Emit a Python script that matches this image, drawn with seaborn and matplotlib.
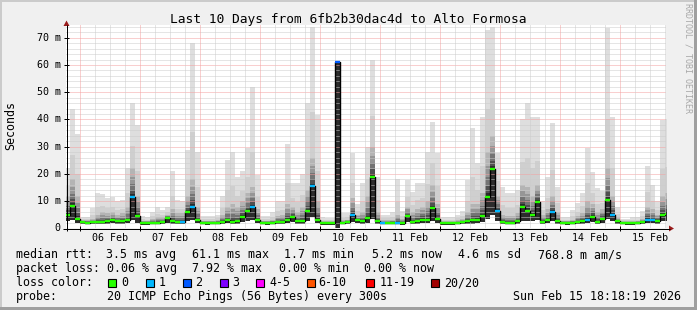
import numpy as np
import matplotlib
matplotlib.use("Agg")
import matplotlib.pyplot as plt
import seaborn as sns
from matplotlib.patches import Rectangle, Polygon
from matplotlib.lines import Line2D

# ---------------- data (2-hour bins starting Feb 05 18:00, values in ms) ----------------
median_ms = [4.8, 8.3, 3.5,
             2.2, 2.1, 2.2, 2.3, 2.3, 2.5, 2.9, 2.5, 2.5, 2.9, 11.4, 4.5,
             1.8, 1.9, 2.0, 2.1, 2.3, 3.8, 2.6, 2.4, 2.3, 6.0, 8.0, 3.0,
             2.0, 1.9, 2.0, 2.1, 2.3, 2.9, 2.4, 2.5, 4.2, 6.3, 7.7, 2.9,
             2.0, 1.9, 2.0, 2.2, 2.4, 3.2, 4.2, 2.7, 2.5, 6.5, 15.4, 3.0,
             1.8, 1.9, 1.9, 61.1, 2.0, 2.2, 5.0, 2.9, 2.6, 3.8, 18.9, 2.5,
             2.0, 2.0, 2.0, 2.1, 1.9, 4.5, 2.3, 2.8, 3.2, 3.1, 7.3, 3.5,
             1.9, 1.8, 1.8, 2.0, 2.3, 2.6, 2.9, 3.2, 4.5, 11.5, 21.7, 6.5,
             2.3, 2.0, 2.0, 2.5, 8.0, 6.5, 4.8, 9.7, 2.3, 3.0, 6.0, 2.5,
             2.0, 1.9, 2.0, 2.3, 2.5, 3.0, 4.3, 2.4, 3.5, 10.5, 5.0, 2.6,
             2.0, 1.9, 1.9, 2.0, 2.2, 3.2, 3.0, 2.8, 4.8, 5.2]
smoke_max = [22, 44, 34.5,
             4, 4, 7.3, 12.8, 12.5, 11, 11.4, 10, 10.5, 22, 46, 38,
             4.5, 4, 6, 8, 6.7, 8, 21, 10.3, 10, 28.7, 68, 28,
             4.5, 4.5, 4.5, 5, 12, 25, 28, 19, 21, 29.4, 52, 19.5,
             4.5, 4.5, 6, 10, 10, 31, 16.5, 16.5, 20, 46, 74, 41.5,
             4, 3.7, 3.7, 61.1, 5.5, 5.5, 27.5, 9, 16.5, 30, 62, 18.8,
             5, 5, 6, 18, 6.5, 17.6, 13.5, 16.5, 16.5, 28, 39, 27.5,
             4, 4, 4, 5, 6.5, 17.6, 36.8, 24, 41, 73, 74, 27.5,
             15, 13, 13, 14, 40, 46, 41, 41, 10, 18.8, 38.6, 15,
             4, 4, 6.6, 9.2, 12.8, 29.4, 20.6, 14.7, 13.8, 73.5, 41, 7.7,
             3.5, 3.5, 4, 4, 6.5, 23, 15.8, 10, 39.7, 40]
smoke_mid = [12, 18, 12,
             3, 3, 3.5, 5, 6, 5.5, 6, 5, 5.5, 8, 22, 12,
             2.8, 2.8, 3.5, 4, 4, 5, 7, 5.5, 5.5, 12, 18, 8,
             2.8, 2.8, 2.8, 3, 5, 8, 9, 8, 10, 13, 15, 7,
             2.8, 2.8, 3.2, 4.5, 5, 9, 8, 6, 8, 14, 26, 10,
             2.6, 2.6, 2.6, 61.1, 3, 3.2, 11, 5, 6, 12, 30, 6,
             3, 3, 3.2, 5, 3.5, 8, 6, 7, 8, 10, 16, 9,
             2.6, 2.5, 2.5, 3, 3.5, 6, 9, 9, 13, 28, 34, 12,
             5, 4.5, 4.5, 5.5, 16, 15, 12, 16, 5, 7, 12, 6,
             2.8, 2.8, 3.2, 4.5, 5.5, 10, 9, 6, 7, 22, 12, 4,
             2.6, 2.6, 2.7, 2.8, 3.5, 8, 7, 5, 12, 13]
smoke_min = [2.5, 3, 2,
             1.5, 1.4, 1.5, 1.5, 1.5, 1.6, 1.8, 1.6, 1.6, 1.8, 3.0, 2.0,
             1.3, 1.3, 1.4, 1.4, 1.5, 2.0, 1.6, 1.5, 1.5, 2.5, 3.0, 1.8,
             1.4, 1.3, 1.4, 1.4, 1.5, 1.8, 1.5, 1.6, 2.2, 2.8, 3.0, 1.8,
             1.4, 1.3, 1.4, 1.5, 1.5, 1.8, 2.2, 1.7, 1.6, 2.8, 4.0, 1.8,
             1.3, 1.3, 1.3, 0.0, 1.4, 1.5, 2.2, 1.8, 1.6, 2.0, 3.5, 1.6,
             1.4, 1.4, 1.4, 1.4, 1.3, 2.2, 1.5, 1.7, 1.8, 1.8, 2.8, 2.0,
             1.3, 1.2, 1.2, 1.4, 1.5, 1.6, 1.7, 1.8, 2.2, 3.5, 5.0, 2.5,
             1.5, 1.4, 1.4, 1.6, 2.8, 2.8, 2.5, 3.0, 1.6, 1.8, 2.5, 1.6,
             1.4, 1.3, 1.4, 1.5, 1.6, 1.8, 2.2, 1.6, 2.0, 3.5, 2.5, 1.7,
             1.4, 1.3, 1.3, 1.4, 1.5, 1.8, 1.8, 1.7, 2.5, 2.8]
loss_code = [0, 0, 0,
             0, 0, 0, 0, 0, 0, 0, 0, 0, 0, 1, 0,
             0, 0, 0, 0, 0, 0, 0, 0, 1, 0, 1, 0,
             0, 0, 0, 0, 0, 0, 0, 0, 0, 0, 1, 0,
             0, 0, 0, 0, 0, 0, 0, 0, 0, 0, 1, 0,
             0, 0, 0, 2, 0, 0, 1, 0, 0, 0, 0, 0,
             1, 0, 0, 1, 0, 0, 0, 0, 0, 0, 0, 0,
             0, 0, 0, 0, 0, 0, 0, 0, 0, 0, 0, 1,
             0, 0, 0, 0, 0, 0, 0, 0, 0, 0, 1, 0,
             0, 0, 0, 0, 0, 1, 0, 0, 0, 0, 1, 0,
             0, 0, 0, 0, 0, 1, 1, 0, 0, 0]

loss_labels = ["0", "1", "2", "3", "4-5", "6-10", "11-19", "20/20"]
loss_colors = ["#26ff00", "#00b8ff", "#0059ff", "#7e00ff", "#ff00ff", "#ff5500", "#ff0000", "#a10000"]
day_labels = ["06 Feb", "07 Feb", "08 Feb", "09 Feb", "10 Feb",
              "11 Feb", "12 Feb", "13 Feb", "14 Feb", "15 Feb"]
ytick_vals = [0, 10, 20, 30, 40, 50, 60, 70]
ytick_labels = ["0", "10 m", "20 m", "30 m", "40 m", "50 m", "60 m", "70 m"]

title = "Last 10 Days from 6fb2b30dac4d to Alto Formosa"
stat_rows = [
    [("median rtt:", 16), ("3.5 ms avg", 107), ("61.1 ms max", 192.7), ("1.7 ms min", 285),
     ("5.2 ms now", 372.7), ("4.6 ms sd", 458), ("768.8 m am/s", 538.3)],
    [("packet loss:", 16), ("0.06 % avg", 107.3), ("7.92 % max", 192.7),
     ("0.00 % min", 279.3), ("0.00 % now", 365)],
]
probe_text = "20 ICMP Echo Pings (56 Bytes) every 300s"
date_text = "Sun Feb 15 18:18:19 2026"

# ---------------- layout ----------------
W, H = 697, 310
sns.set_theme(style="white")
plt.rcParams["font.family"] = ["DejaVu Sans Mono"]
MONO = "DejaVu Sans Mono"

fig = plt.figure(figsize=(W / 100, H / 100), dpi=100, facecolor="#f0f0f0")
X0, X1, Y0, Y1 = 66, 666, 25.3, 228.3
ax = fig.add_axes([X0 / W, 1 - Y1 / H, (X1 - X0) / W, (Y1 - Y0) / H])
ax.set_facecolor("white")
for s in ax.spines.values():
    s.set_visible(False)
T0 = 18.3
T1 = T0 + 240
YMAX = 74.6
ax.set_xlim(T0, T1)
ax.set_ylim(0, YMAX)
ax.set_xticks([])
ax.set_yticks([])
ax.grid(False)

n = len(median_ms)
edges = 18 + 2 * np.arange(n + 1)


def ext(a):
    a = np.asarray(a, float)
    return np.append(a, a[-1])


med = np.asarray(median_ms, float)
hi = np.asarray(smoke_max, float)
mid = np.asarray(smoke_mid, float)
lo = np.asarray(smoke_min, float)

# smoke
ax.fill_between(edges, ext(lo), ext(hi), step="post", color="#dedede", lw=0, zorder=1)
ax.fill_between(edges, ext(lo), ext(mid + 0.35 * (hi - mid)), step="post", color="#cfcfcf", lw=0, zorder=1.1)
shades = [(1.0, "#b4b4b4"), (0.7, "#969696"), (0.45, "#747474"), (0.25, "#505050"), (0.1, "#2c2c2c")]
for i, (f, c) in enumerate(shades):
    top = med + f * (mid - med)
    ax.fill_between(edges, ext(lo), ext(top), step="post", color=c, lw=0, zorder=1.2 + 0.1 * i)

# grid
for v in range(2, 75, 2):
    major = v % 10 == 0
    ax.axhline(v, color="#f4a0a0" if major else "#cccccc", lw=0.72, ls=(0, (1, 1)), zorder=3)
for h in np.arange(24, T1, 6):
    major = h % 24 == 0
    ax.axvline(h, color="#f4a0a0" if major else "#cccccc", lw=0.72, ls=(0, (1, 1)), zorder=3)

# median line
sns.lineplot(x=edges, y=ext(med), drawstyle="steps-post", color="black", lw=1.0,
             estimator=None, ax=ax, zorder=4, legend=False)
ax.hlines(med, edges[:-1], edges[1:], colors=[loss_colors[c] for c in loss_code],
          lw=1.7, zorder=5)
ax.set_xlim(T0, T1)
ax.set_ylim(0, YMAX)
ax.set_xlabel("")
ax.set_ylabel("")
ax.set_xticks([])
ax.set_yticks([])


def fx(x):
    return x / W


def fy(y):
    return 1 - y / H


def fline(x0, y0, x1, y1, color="black", lw=0.72):
    fig.add_artist(Line2D([fx(x0), fx(x1)], [fy(y0), fy(y1)], transform=fig.transFigure,
                          color=color, lw=lw, solid_capstyle="butt"))


def ypix(v):
    return Y1 - v * (Y1 - Y0) / YMAX


def xpix(h):
    return X0 + (h - T0) * (X1 - X0) / 240


# axes and arrows
fline(66.5, 231, 66.5, 25)
fline(63, 228.5, 670, 228.5)
fig.add_artist(Polygon([(fx(669), fy(225.5)), (fx(669), fy(231.5)), (fx(674), fy(228.5))],
                       closed=True, transform=fig.transFigure, color="#9b1c1c", lw=0))
fig.add_artist(Polygon([(fx(63.5), fy(26)), (fx(69.5), fy(26)), (fx(66.5), fy(20.5))],
                       closed=True, transform=fig.transFigure, color="#9b1c1c", lw=0))
for v in ytick_vals[1:]:
    fline(64, ypix(v), 69, ypix(v))
for d in range(1, 11):
    xp = xpix(24 * d)
    fline(xp, 226, xp, 231)

# tick labels
for v, lab in zip(ytick_vals, ytick_labels):
    fig.text(fx(60.5), fy(ypix(v)), lab, ha="right", va="center", fontsize=7.2,
             family=MONO, color="black")
for d, lab in enumerate(day_labels, start=1):
    fig.text(fx(xpix(24 * d + 12)), fy(241), lab, ha="center", va="baseline", fontsize=7.2,
             family=MONO, color="black")

fig.text(fx(11), fy(126), "Seconds", rotation=90, ha="center", va="center", fontsize=8.4,
         family=MONO, color="black")
fig.text(fx(348.5), fy(23.5), title, ha="center", va="baseline", fontsize=9.3,
         family=MONO, color="black")
fig.text(fx(688), fy(3), "RRDTOOL / TOBI OETIKER", rotation=270, ha="center", va="top",
         fontsize=6.0, family=MONO, color="#a8a8a8")

# legend rows
baselines = [258.3, 271.7, 286.0, 300.0]
for row, yb in zip(stat_rows, baselines[:2]):
    for txt, xp in row:
        fig.text(fx(xp - 0.5), fy(yb), txt, ha="left", va="baseline", fontsize=8.4,
                 family=MONO, color="black")
fig.text(fx(15.5), fy(baselines[2]), "loss color:", ha="left", va="baseline", fontsize=8.4,
         family=MONO, color="black")
box_x = [108, 146, 183, 219.5, 256, 307, 366, 431]
lab_x = [122, 159, 196, 232.5, 269.5, 319, 380, 445]
for bx, lx, lab, col in zip(box_x, lab_x, loss_labels, loss_colors):
    fig.add_artist(Rectangle((fx(bx), fy(287)), 8 / W, 8 / H, transform=fig.transFigure,
                             facecolor=col, edgecolor="black", lw=0.8))
    fig.text(fx(lx - 0.5), fy(baselines[2]), lab, ha="left", va="baseline", fontsize=8.4,
             family=MONO, color="black")
fig.text(fx(15.5), fy(baselines[3]), "probe:", ha="left", va="baseline", fontsize=8.4,
         family=MONO, color="black")
fig.text(fx(106.8), fy(baselines[3]), probe_text, ha="left", va="baseline", fontsize=8.4,
         family=MONO, color="black")
fig.text(fx(512.8), fy(baselines[3]), date_text, ha="left", va="baseline", fontsize=8.4,
         family=MONO, color="black")

# bevel border
fig.add_artist(Rectangle((0, fy(2)), 1, 2 / H, transform=fig.transFigure, color="#cbcbcb", lw=0))
fig.add_artist(Rectangle((0, 0), 2 / W, 1, transform=fig.transFigure, color="#cbcbcb", lw=0))
fig.add_artist(Rectangle((0, 0), 1, 3 / H, transform=fig.transFigure, color="#9f9f9f", lw=0))
fig.add_artist(Rectangle((fx(694), 0), 3 / W, 1, transform=fig.transFigure, color="#9f9f9f", lw=0))

fig.savefig("out.png", dpi=100, facecolor=fig.get_facecolor())
